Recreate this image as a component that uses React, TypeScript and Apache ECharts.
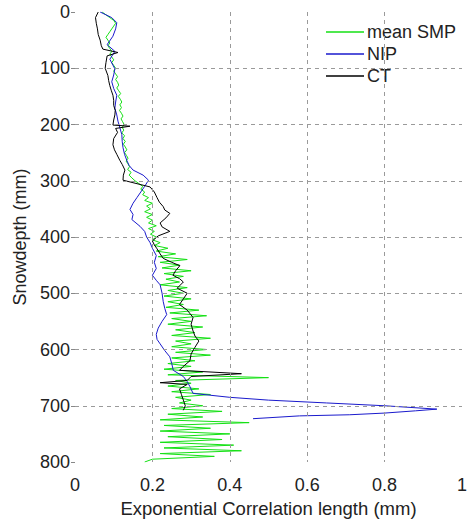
import React, { useEffect, useRef } from "react";
import * as echarts from "echarts";

// mean SMP (green): depth step 5 mm from 0 to 800
const smpDepth: number[] = Array.from({ length: 161 }, (_, i) => i * 5);
const smpValues: number[] = [
  0.07, 0.08, 0.09, 0.1, 0.105, 0.1, 0.095, 0.09, 0.085, 0.08, 0.085, 0.09, 0.085, 0.09, 0.095, 0.09, 0.095, 0.1, 0.095, 0.1, 0.105,
  0.1, 0.105, 0.11, 0.105, 0.11, 0.113, 0.108, 0.113, 0.118, 0.112, 0.117, 0.121, 0.116, 0.12, 0.115, 0.12, 0.124, 0.119, 0.123, 0.127,
  0.122, 0.126, 0.121, 0.128, 0.124, 0.13, 0.125, 0.13, 0.134, 0.128, 0.133, 0.137, 0.132, 0.137, 0.141, 0.136, 0.145, 0.14, 0.147, 0.155,
  0.165, 0.175, 0.17, 0.18, 0.175, 0.19, 0.18, 0.2, 0.185, 0.195, 0.18, 0.2, 0.185, 0.2, 0.19, 0.21, 0.19, 0.205, 0.195, 0.21,
  0.2, 0.22, 0.205, 0.24, 0.21, 0.26, 0.215, 0.29, 0.22, 0.27, 0.225, 0.3, 0.23, 0.28, 0.235, 0.27, 0.22, 0.29, 0.24, 0.28,
  0.23, 0.3, 0.24, 0.28, 0.235, 0.32, 0.245, 0.34, 0.25, 0.3, 0.24, 0.33, 0.26, 0.31, 0.25, 0.35, 0.26, 0.3, 0.25, 0.34,
  0.26, 0.35, 0.25, 0.31, 0.24, 0.3, 0.23, 0.33, 0.24, 0.5, 0.26, 0.3, 0.24, 0.32, 0.25, 0.35, 0.26, 0.3, 0.27, 0.33,
  0.25, 0.38, 0.24, 0.33, 0.22, 0.45, 0.23, 0.35, 0.22, 0.4, 0.24, 0.38, 0.22, 0.41, 0.23, 0.43, 0.22, 0.36, 0.2, 0.18,
];

// NIP (blue)
const nipDepth: number[] = [
  0, 5, 10, 19, 30, 43, 58, 70, 84, 101, 112, 124, 136, 148, 160, 171, 183, 194, 206, 218, 230, 241, 253, 264, 273, 281, 290,
  299, 310, 320, 330, 340, 351, 360, 369, 381, 390, 400, 410, 420, 433, 445, 456, 468, 477, 485, 500, 515, 527, 538, 550,
  562, 573, 582, 590, 602, 613, 625, 637, 648, 657, 666, 678, 685, 690, 695, 700, 706, 709, 713, 716, 718, 723,
];
const nipValues: number[] = [
  0.065, 0.08, 0.095, 0.108, 0.105, 0.098, 0.083, 0.103, 0.09, 0.103, 0.1, 0.095, 0.1, 0.108, 0.105, 0.103, 0.108, 0.111, 0.116, 0.121, 0.122, 0.124, 0.128, 0.134, 0.14, 0.15, 0.176,
  0.19, 0.18, 0.17, 0.16, 0.15, 0.142, 0.15, 0.147, 0.168, 0.18, 0.185, 0.194, 0.2, 0.21, 0.205, 0.21, 0.2, 0.21, 0.22, 0.225, 0.228, 0.232, 0.237, 0.225,
  0.215, 0.21, 0.212, 0.22, 0.232, 0.245, 0.25, 0.254, 0.28, 0.29, 0.297, 0.305, 0.4, 0.5, 0.65, 0.8, 0.935, 0.88, 0.8, 0.71, 0.58, 0.46,
];

// CT (black)
const ctDepth: number[] = [
  0, 10, 20, 30, 40, 50, 60, 66, 72, 78, 90, 100, 113, 122, 131, 140, 148, 157, 166, 175, 183, 192, 201, 203, 207, 214, 225, 236, 245, 253, 264, 271, 281, 290, 299,
  311, 320, 330, 338, 346, 352, 358, 366, 375, 382, 390, 398, 407, 414, 421, 430, 438, 445, 451, 460, 468, 474, 480, 491, 500, 510, 520, 530, 543, 555, 567, 576, 585, 596,
  608, 620, 630, 637, 643, 648, 655, 659, 662, 670, 680, 690, 700, 708,
];
const ctValues: number[] = [
  0.06, 0.053, 0.055, 0.058, 0.06, 0.065, 0.068, 0.072, 0.111, 0.083, 0.08, 0.078, 0.085, 0.087, 0.09, 0.094, 0.098, 0.1, 0.1, 0.104, 0.103, 0.1, 0.098, 0.142, 0.105, 0.11, 0.1, 0.098, 0.102, 0.108, 0.116, 0.122, 0.129, 0.125, 0.124,
  0.194, 0.205, 0.212, 0.218, 0.228, 0.232, 0.245, 0.235, 0.22, 0.225, 0.245, 0.215, 0.2, 0.205, 0.212, 0.22, 0.228, 0.25, 0.271, 0.26, 0.253, 0.27, 0.28, 0.264, 0.29, 0.28, 0.27, 0.29, 0.305, 0.3, 0.305, 0.31, 0.32, 0.31,
  0.3, 0.297, 0.28, 0.27, 0.43, 0.3, 0.29, 0.22, 0.29, 0.27, 0.275, 0.28, 0.285, 0.28,
];

const xTicks: number[] = [0, 0.2, 0.4, 0.6, 0.8, 1];
const yTicks: number[] = [0, 100, 200, 300, 400, 500, 600, 700, 800];

const pair = (vals: number[], depths: number[]) => vals.map((v, i) => [v, depths[i]]);

export default function App() {
  const ref = useRef<HTMLDivElement>(null);
  useEffect(() => {
    if (!ref.current) return;
    const chart = echarts.init(ref.current, null, { renderer: "svg" });
    const font = "Liberation Sans, Arial, sans-serif";
    const gridStyle = { color: "#9a9a9a", type: [4, 4], width: 1 };
    const innerX = xTicks.slice(1, -1);
    const innerY = yTicks.slice(1, -1);
    chart.setOption({
      animation: false,
      backgroundColor: "#ffffff",
      grid: { left: 75, right: 8, top: 12, bottom: 53 },
      legend: {
        orient: "vertical",
        left: 321,
        top: 18,
        itemGap: 4,
        itemWidth: 38,
        itemHeight: 1.5,
        icon: "rect",
        textStyle: { fontFamily: font, fontSize: 18, color: "#222", lineHeight: 18, padding: [0, 0, 0, -2] },
        data: ["mean SMP", "NIP", "CT"],
      },
      xAxis: {
        type: "value",
        min: xTicks[0],
        max: xTicks[xTicks.length - 1],
        interval: 0.2,
        name: "Exponential Correlation length (mm)",
        nameLocation: "middle",
        nameGap: 37,
        nameTextStyle: { fontFamily: font, fontSize: 18.5, color: "#222" },
        axisLine: { show: false },
        axisTick: { show: false },
        axisLabel: { fontFamily: font, fontSize: 18, color: "#222", margin: 14 },
        splitLine: { show: false },
      },
      yAxis: {
        type: "value",
        inverse: true,
        min: yTicks[0],
        max: yTicks[yTicks.length - 1],
        interval: 100,
        name: "Snowdepth (mm)",
        nameLocation: "middle",
        nameGap: 41,
        nameTextStyle: { fontFamily: font, fontSize: 18, color: "#222" },
        axisLine: { show: false },
        axisTick: { show: true, length: 4, lineStyle: { color: "#888" } },
        axisLabel: { fontFamily: font, fontSize: 18, color: "#222", margin: 5 },
        splitLine: { show: false },
      },
      series: [
        {
          name: "grid",
          type: "line",
          data: [],
          silent: true,
          markLine: {
            silent: true,
            symbol: "none",
            label: { show: false },
            lineStyle: gridStyle,
            data: [
              ...innerX.map((v) => ({ xAxis: v })),
              ...innerY.map((v) => ({ yAxis: v })),
            ],
          },
          z: 1,
        },
        {
          name: "mean SMP",
          type: "line",
          data: pair(smpValues, smpDepth),
          symbol: "none",
          lineStyle: { color: "#14e014", width: 1 },
          itemStyle: { color: "#14e014" },
          z: 2,
        },
        {
          name: "NIP",
          type: "line",
          data: pair(nipValues, nipDepth),
          symbol: "none",
          lineStyle: { color: "#1a1acc", width: 1 },
          itemStyle: { color: "#1a1acc" },
          z: 3,
        },
        {
          name: "CT",
          type: "line",
          data: pair(ctValues, ctDepth),
          symbol: "none",
          lineStyle: { color: "#000000", width: 1 },
          itemStyle: { color: "#000000" },
          z: 4,
        },
      ],
    });
    return () => chart.dispose();
  }, []);
  return (
    <div
      ref={ref}
      style={{ position: "fixed", left: 0, top: 0, width: 470, height: 523, background: "#fff" }}
    />
  );
}
